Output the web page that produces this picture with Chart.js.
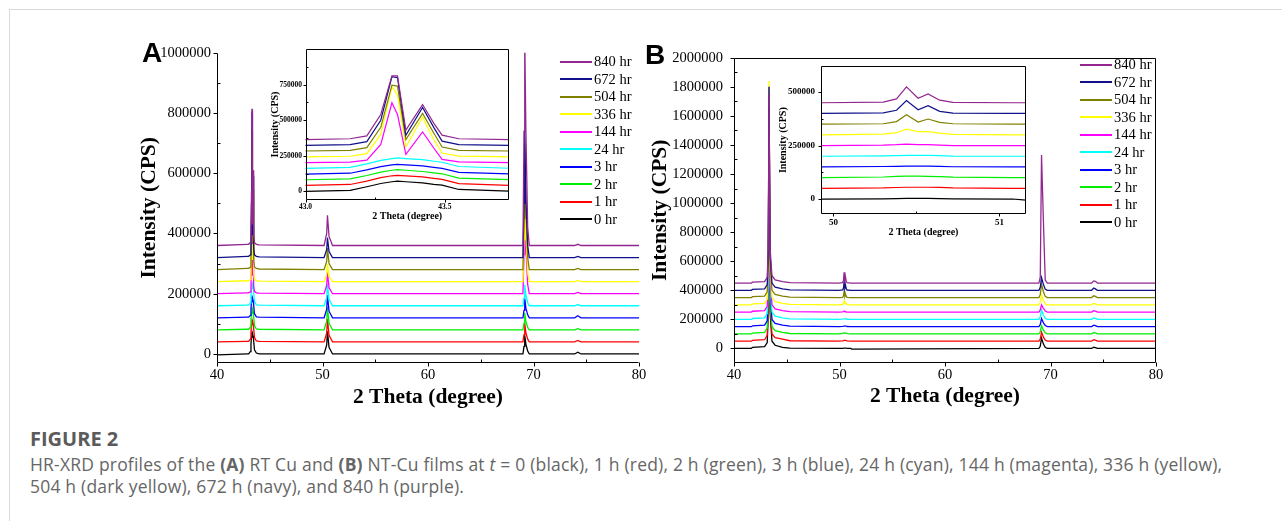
<!DOCTYPE html>
<html>
<head>
<meta charset="utf-8">
<title>HR-XRD profiles</title>
<script src="https://cdn.jsdelivr.net/npm/chart.js@4.4.1/dist/chart.umd.min.js"></script>
<style>
  html, body { margin: 0; padding: 0; background: #fff; }
  body { width: 1282px; height: 521px; position: relative; overflow: hidden; }
  #frame { position: absolute; left: 9px; top: 9px; width: 1300px; height: 600px; border: 1px solid #d9d9d9; }
  canvas { position: absolute; }
  .tag { position: absolute; font: bold 28px/28px "Liberation Sans", Arial, sans-serif; color: #000; }
  .legend { position: absolute; font: 14.5px/17.5px "Liberation Serif", serif; color: #000; }
  .legend div { height: 17.5px; white-space: nowrap; }
  .legend span { display: inline-block; width: 32px; height: 2px; vertical-align: middle; margin-right: 2px; position: relative; top: -1px; }
  #caption { position: absolute; left: 30px; top: 427px; font-family: "Open Sans", sans-serif; }
  #caption .head { font-size: 20px; line-height: 24px; font-weight: 700; color: #5b5b5b; }
  #caption .body { margin-top: 2px; font-size: 17.5px; line-height: 22px; letter-spacing: 0.2px; color: #666; white-space: nowrap; }
</style>
</head>
<body>
<div id="frame"></div>
<canvas id="mainA"></canvas>
<canvas id="mainB"></canvas>
<canvas id="insetA"></canvas>
<canvas id="insetB"></canvas>
<div class="tag" style="left:142px;top:39px">A</div>
<div class="tag" style="left:645px;top:41px">B</div>
<div class="legend" id="legA" style="left:560px;top:53px"></div>
<div class="legend" id="legB" style="left:1080px;top:56px"></div>
<div id="caption">
  <div class="head">FIGURE 2</div>
  <div class="body">HR-XRD profiles of the <b>(A)</b> RT Cu and <b>(B)</b> NT-Cu films at <i>t</i> = 0 (black), 1 h (red), 2 h (green), 3 h (blue), 24 h (cyan), 144 h (magenta), 336 h (yellow),<br>504 h (dark yellow), 672 h (navy), and 840 h (purple).</div>
</div>
<script>
// ── series ──────────────────────────────────────────────────────────────────
const timeLabels   = ["0 hr", "1 hr", "2 hr", "3 hr", "24 hr", "144 hr", "336 hr", "504 hr", "672 hr", "840 hr"];
const seriesColors = ["#000000", "#ff0000", "#00ee00", "#0000ff", "#00ffff", "#ff00ff", "#ffff00", "#808000", "#10108a", "#93278f"];

// (A) RT Cu — waterfall offsets and intensities
const offsetsA = [0, 40000, 80000, 120000, 160000, 200000, 240000, 280000, 320000, 360000];
const thetaA = [40, 42.9, 43.0, 43.16, 43.22, 43.27, 43.31, 43.33, 43.36, 43.42, 43.46, 43.49, 43.55, 43.73, 44.0,
                50.15, 50.4, 50.47, 50.62, 50.95, 69.0, 69.1, 69.17, 69.28, 69.45, 69.6, 73.9, 74.2, 74.5, 80];
const a0hr   = [-3000, 0, 0, 8000, 33000, 56000, 68000, 72000, 68000, 60000, 50000, 44000, 14000, 3000, 0,
                0, 30000, 75000, 22000, 0, 0, 25000, 62000, 32000, 10000, 0, 0, 6000, 0, 0];
const a1hr   = [0, 2000, 2000, 9000, 33000, 57000, 70000, 73000, 70000, 62000, 52000, 45000, 15000, 3000, 2000,
                0, 30000, 77000, 22000, 0, 0, 24000, 61000, 30000, 9000, 0, 0, 5000, 0, 0];
const a2hr   = [0, 2000, 2000, 8000, 32000, 56000, 69000, 73000, 69000, 60000, 51000, 44000, 14000, 3000, 2000,
                0, 30000, 76000, 22000, 0, 0, 22000, 56000, 28000, 8000, 0, 0, 4000, 0, 0];
const a3hr   = [0, 2000, 2000, 8000, 31000, 54000, 66000, 70000, 67000, 59000, 49000, 42000, 14000, 3000, 2000,
                0, 29000, 75000, 22000, 0, 0, 25000, 64000, 32000, 10000, 0, 0, 7000, 0, 0];
const a24hr  = [0, 2000, 2000, 9000, 34000, 58000, 71000, 75000, 71000, 63000, 52000, 45000, 15000, 3000, 2000,
                0, 28000, 72000, 21000, 0, 0, 27000, 70000, 34000, 10000, 0, 0, 4000, 0, 0];
const a144hr = [0, 3000, 3000, 6000, 20000, 130000, 422000, 340000, 60000, 218000, 105000, 25000, 8000, 3000, 2000,
                0, 28000, 70000, 20000, 0, 0, 130000, 317000, 150000, 30000, 0, 0, 4000, 0, 0];
const a336hr = [0, 3000, 3000, 7000, 25000, 160000, 495000, 440000, 72000, 283000, 125000, 30000, 8000, 3000, 2000,
                0, 25000, 59000, 18000, 0, 0, 140000, 325000, 160000, 30000, 0, 0, 4000, 0, 0];
const a504hr = [0, 4000, 4000, 8000, 28000, 170000, 466000, 460000, 84000, 267000, 130000, 32000, 9000, 4000, 2000,
                0, 28000, 72000, 20000, 0, 0, 170000, 420000, 200000, 40000, 0, 0, 4000, 0, 0];
const a672hr = [0, 4000, 4000, 9000, 30000, 180000, 485000, 478000, 74000, 270000, 130000, 33000, 9000, 4000, 2000,
                0, 27000, 66000, 20000, 0, 0, 180000, 420000, 200000, 40000, 0, 0, 4000, 0, 0];
const a840hr = [0, 4000, 4000, 10000, 30000, 180000, 452000, 452000, 70000, 250000, 120000, 35000, 10000, 4000, 2000,
                0, 40000, 100000, 30000, 0, 0, 380000, 690000, 380000, 60000, 0, 0, 4000, 0, 0];

// (B) NT-Cu
const offsetsB = [0, 50000, 100000, 150000, 200000, 250000, 300000, 350000, 400000, 450000];
const thetaB = [40, 41.65, 41.75, 42.9, 43.15, 43.25, 43.32, 43.42, 43.6, 43.9, 44.6, 45.3,
                49.93, 50.3, 50.38, 50.44, 50.51, 50.57, 50.64, 50.72, 51.08, 51.16,
                68.9, 69.03, 69.15, 69.33, 69.5, 69.7, 73.9, 74.1, 74.25, 74.45, 80];
const b0hr   = [0, 0, 8000, 12000, 40000, 250000, 1500000, 250000, 50000, 22000, 8000, 2000,
                0, 1000, 2000, 3000, 3000, 3000, 2000, 1000, 0, -5000, 0, 15000, 71000, 30000, 8000, 0, 0, 8000, 6000, 0, 0];
const b1hr   = [0, 0, 6000, 10000, 40000, 250000, 1500000, 250000, 50000, 25000, 15000, 3000,
                0, 2000, 4000, 5000, 5000, 5000, 4000, 2000, 0, 0, 0, 15000, 62000, 28000, 8000, 0, 0, 10000, 7000, 0, 0];
const b2hr   = [0, 0, 6000, 10000, 40000, 240000, 1450000, 240000, 50000, 22000, 10000, 3000,
                0, 3000, 6000, 7000, 7000, 6000, 5000, 2000, 0, 0, 0, 15000, 57000, 26000, 8000, 0, 0, 9000, 7000, 0, 0];
const b3hr   = [0, 0, 6000, 10000, 40000, 260000, 1650000, 260000, 50000, 22000, 10000, 3000,
                0, 2000, 3000, 4000, 4000, 4000, 3000, 1000, 0, 0, 0, 15000, 56000, 26000, 8000, 0, 0, 10000, 7000, 0, 0];
const b24hr  = [0, 0, 6000, 10000, 40000, 240000, 1450000, 240000, 50000, 22000, 10000, 3000,
                0, 2000, 3000, 4000, 4000, 4000, 3000, 1000, 0, 0, 0, 18000, 65000, 30000, 8000, 0, 0, 10000, 7000, 0, 0];
const b144hr = [0, 0, 6000, 10000, 40000, 250000, 1500000, 250000, 50000, 22000, 10000, 3000,
                0, 2000, 4000, 7000, 4000, 4000, 2000, 0, 0, 0, 0, 15000, 50000, 25000, 8000, 0, 0, 10000, 7000, 0, 0];
const b336hr = [0, 0, 6000, 10000, 40000, 260000, 1540000, 260000, 50000, 22000, 10000, 3000,
                0, 3000, 10000, 27000, 15000, 15000, 8000, 2000, 0, 0, 0, 18000, 66000, 30000, 8000, 0, 0, 10000, 7000, 0, 0];
const b504hr = [0, 0, 6000, 10000, 40000, 240000, 1300000, 240000, 50000, 22000, 10000, 3000,
                0, 2000, 12000, 44000, 10000, 24000, 8000, 2000, 0, 0, 0, 20000, 92000, 40000, 8000, 0, 0, 12000, 8000, 0, 0];
const b672hr = [0, 0, 6000, 10000, 40000, 250000, 1400000, 250000, 50000, 22000, 10000, 3000,
                0, 3000, 15000, 60000, 17000, 36000, 10000, 2000, 0, 0, 0, 20000, 86000, 40000, 8000, 0, 0, 15000, 10000, 0, 0];
const b840hr = [0, 0, 6000, 10000, 40000, 240000, 1300000, 240000, 50000, 22000, 10000, 3000,
                0, 3000, 18000, 74000, 21000, 41000, 12000, 2000, 0, 0, 0, 40000, 880000, 420000, 20000, 0, 0, 15000, 12000, 0, 0];

// ── ticks ───────────────────────────────────────────────────────────────────
const xTicksMain   = [40, 50, 60, 70, 80];
const xMinorMain   = [45, 55, 65, 75];
const yTicksA      = [0, 200000, 400000, 600000, 800000, 1000000];
const yMinorA      = [100000, 300000, 500000, 700000, 900000];
const yTicksB      = [0, 200000, 400000, 600000, 800000, 1000000, 1200000, 1400000, 1600000, 1800000, 2000000];
const yMinorB      = [100000, 300000, 500000, 700000, 900000, 1100000, 1300000, 1500000, 1700000, 1900000];
const xTicksInsetA = [43.0, 43.5];
const xMinorInsetA = [43.25];
const yTicksInsetA = [0, 250000, 500000, 750000];
const yMinorInsetA = [125000, 375000, 625000, 875000];
const xTicksInsetB = [50, 51];
const xMinorInsetB = [50.5];
const yTicksInsetB = [0, 250000, 500000];
const yMinorInsetB = [125000, 375000];

const SERIF = "'Liberation Serif', 'Times New Roman', serif";
Chart.defaults.font.family = SERIF;
Chart.defaults.color = "#000";

// axes drawn by hand: majors point out, minors point in, optional full box
const axisMarks = {
  id: "axisMarks",
  afterDraw(chart, args, opt) {
    const { ctx, chartArea: a, scales: { x, y } } = chart;
    const L = Math.round(a.left) + 0.5, R = Math.round(a.right) - 0.5;
    const T = Math.round(a.top) + 0.5,  B = Math.round(a.bottom) - 0.5;
    const px = (v) => Math.round(x.getPixelForValue(v)) + 0.5;
    const py = (v) => Math.round(y.getPixelForValue(v)) + 0.5;
    ctx.save();
    ctx.strokeStyle = "#000";
    ctx.lineWidth = 1;
    ctx.beginPath();
    ctx.moveTo(L, T); ctx.lineTo(L, B); ctx.lineTo(R, B);
    if (opt.frame) { ctx.lineTo(R, T); ctx.lineTo(L, T); }
    x.ticks.forEach((t) => { const p = px(t.value); ctx.moveTo(p, B); ctx.lineTo(p, B + opt.major); });
    y.ticks.forEach((t) => { const p = py(t.value); ctx.moveTo(L, p); ctx.lineTo(L - opt.major, p); });
    opt.xMinor.forEach((v) => { const p = px(v); ctx.moveTo(p, B); ctx.lineTo(p, B - opt.minor); });
    opt.yMinor.forEach((v) => { const p = py(v); ctx.moveTo(L, p); ctx.lineTo(L + opt.minor, p); });
    ctx.stroke();
    ctx.restore();
  },
};

function buildSets(theta, offsets, series, lw) {
  return series.map((ys, i) => ({
    label:       timeLabels[i],
    data:        theta.map((t, k) => ({ x: t, y: offsets[i] + ys[k] })),
    borderColor: seriesColors[i],
    borderWidth: lw,
    pointRadius: 0,
    fill:        false,
    order:       series.length - 1 - i,   // 840 hr on top
  }));
}

function plot(id, box, area, o) {
  const cv = document.getElementById(id);
  cv.width = box.w; cv.height = box.h;
  cv.style.left = box.x + "px"; cv.style.top = box.y + "px";
  const yW = area.left - box.x, xH = box.y + box.h - area.bottom;
  return new Chart(cv, {
    type: "line",
    data: { datasets: o.datasets },
    options: {
      responsive: false,
      animation:  false,
      events:     [],
      layout: { padding: { top: area.top - box.y, right: box.x + box.w - area.right, left: 0, bottom: 0 } },
      plugins: {
        legend:    { display: false },
        tooltip:   { enabled: false },
        axisMarks: { frame: o.frame, major: o.major, minor: o.minor, xMinor: o.xMinor, yMinor: o.yMinor },
      },
      scales: {
        x: {
          type: "linear", min: o.xMin, max: o.xMax,
          afterFit: (s) => { s.height = xH; },
          afterBuildTicks: (s) => { s.ticks = o.xTicks.map((v) => ({ value: v })); },
          grid:   { display: false, drawTicks: false },
          border: { display: false },
          ticks:  { font: o.tickFont, color: "#000", padding: o.xPad, maxRotation: 0, autoSkip: false, callback: o.xFmt },
          title:  { display: true, text: "2 Theta (degree)", color: "#000", font: o.titleFont, padding: { top: 0, bottom: o.xTitlePad } },
        },
        y: {
          type: "linear", min: o.yMin, max: o.yMax,
          afterFit: (s) => { s.width = yW; },
          afterBuildTicks: (s) => { s.ticks = o.yTicks.map((v) => ({ value: v })); },
          grid:   { display: false, drawTicks: false },
          border: { display: false },
          ticks:  { font: o.tickFont, color: "#000", padding: o.yPad, autoSkip: false, callback: (v) => String(v) },
          title:  { display: true, text: "Intensity (CPS)", color: "#000", font: o.titleFont, padding: { top: o.yTitlePad, bottom: 0 } },
        },
      },
    },
    plugins: [axisMarks],
  });
}

const seriesA = [a0hr, a1hr, a2hr, a3hr, a24hr, a144hr, a336hr, a504hr, a672hr, a840hr];
const seriesB = [b0hr, b1hr, b2hr, b3hr, b24hr, b144hr, b336hr, b504hr, b672hr, b840hr];

const mainTick  = { family: SERIF, size: 14.5 };
const mainTitle = { family: SERIF, size: 21.5, weight: "bold" };

plot("mainA", { x: 120, y: 38, w: 540, h: 375 }, { left: 217, top: 49, right: 639, bottom: 363 }, {
  datasets: buildSets(thetaA, offsetsA, seriesA, 1.3),
  xMin: 40, xMax: 80, yMin: -30000, yMax: 1000000,
  xTicks: xTicksMain, yTicks: yTicksA, xMinor: xMinorMain, yMinor: yMinorA,
  frame: false, major: 4, minor: 3,
  tickFont: mainTick, titleFont: mainTitle, xPad: 3, yPad: 6, xTitlePad: 3, yTitlePad: 17,
  xFmt: (v) => String(v),
});

plot("mainB", { x: 630, y: 38, w: 545, h: 375 }, { left: 734, top: 50, right: 1156, bottom: 363 }, {
  datasets: buildSets(thetaB, offsetsB, seriesB, 1.3),
  xMin: 40, xMax: 80, yMin: -100000, yMax: 2000000,
  xTicks: xTicksMain, yTicks: yTicksB, xMinor: xMinorMain, yMinor: yMinorB,
  frame: true, major: 4, minor: 3,
  tickFont: mainTick, titleFont: mainTitle, xPad: 3, yPad: 11, xTitlePad: 4, yTitlePad: 18,
  xFmt: (v) => String(v),
});

plot("insetA", { x: 265, y: 40, w: 255, h: 190 }, { left: 305.5, top: 49, right: 509, bottom: 200 }, {
  datasets: buildSets(thetaA, offsetsA, seriesA, 1.2),
  xMin: 43.0, xMax: 43.73, yMin: -60000, yMax: 1000000,
  xTicks: xTicksInsetA, yTicks: yTicksInsetA, xMinor: xMinorInsetA, yMinor: yMinorInsetA,
  frame: true, major: 3, minor: 2,
  tickFont: { family: SERIF, size: 7.5, weight: "bold" }, titleFont: { family: SERIF, size: 10, weight: "bold" },
  xPad: 3, yPad: 3.5, xTitlePad: 8, yTitlePad: 4,
  xFmt: (v) => v.toFixed(1),
});

plot("insetB", { x: 775, y: 55, w: 265, h: 185 }, { left: 821, top: 64, right: 1026, bottom: 214 }, {
  datasets: buildSets(thetaB, offsetsB, seriesB, 1.2),
  xMin: 49.925, xMax: 51.16, yMin: -70000, yMax: 620000,
  xTicks: xTicksInsetB, yTicks: yTicksInsetB, xMinor: xMinorInsetB, yMinor: yMinorInsetB,
  frame: true, major: 3, minor: 2,
  tickFont: { family: SERIF, size: 9, weight: "bold" }, titleFont: { family: SERIF, size: 10, weight: "bold" },
  xPad: 3, yPad: 6, xTitlePad: 2, yTitlePad: 2,
  xFmt: (v) => String(v),
});

// legends: 840 hr at the top
function legend(id) {
  const el = document.getElementById(id);
  for (let i = timeLabels.length - 1; i >= 0; i--) {
    const row = document.createElement("div");
    row.innerHTML = `<span style="background:${seriesColors[i]}"></span>${timeLabels[i]}`;
    el.appendChild(row);
  }
}
legend("legA");
legend("legB");
</script>
</body>
</html>
